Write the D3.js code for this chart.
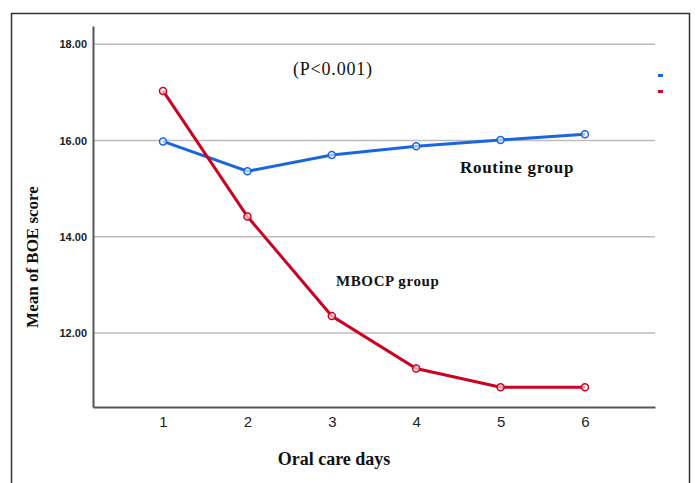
<!DOCTYPE html>
<html>
<head>
<meta charset="utf-8">
<script src="https://cdn.jsdelivr.net/npm/d3@7"></script>
<style>
  body { margin: 0; background: #fff; }
</style>
</head>
<body>
<div id="chart"></div>
<script>
const days = [1, 2, 3, 4, 5, 6];
const routine = [15.98, 15.36, 15.70, 15.88, 16.01, 16.13];
const mbocp = [17.03, 14.42, 12.35, 11.26, 10.87, 10.87];
const yTicks = [12, 14, 16, 18];

const width = 696, height = 483;
const margin = { left: 93, right: 41, top: 26, bottom: 76 };

const svg = d3.select("#chart").append("svg")
  .attr("width", width)
  .attr("height", height);

// outer frame
svg.append("rect")
  .attr("x", 11.5).attr("y", 13.5)
  .attr("width", 678).attr("height", 480)
  .attr("fill", "none").attr("stroke", "#333").attr("stroke-width", 1.5);

const x = d3.scaleLinear().domain([0.17, 6.83]).range([margin.left, width - margin.right]);
const y = d3.scaleLinear().domain([10.46, 18.38]).range([height - margin.bottom, margin.top]);

// gridlines
svg.append("g").selectAll("line")
  .data(yTicks)
  .enter().append("line")
  .attr("x1", margin.left).attr("x2", width - margin.right)
  .attr("y1", d => y(d)).attr("y2", d => y(d))
  .attr("stroke", "#bcbcbc").attr("stroke-width", 1.5);

// axes
const yAxis = svg.append("g")
  .attr("transform", `translate(${margin.left},0)`)
  .call(d3.axisLeft(y).tickValues(yTicks).tickFormat(d3.format(".2f")).tickSize(0).tickPadding(6));
yAxis.select(".domain").attr("stroke", "#555").attr("stroke-width", 2);
yAxis.selectAll("text")
  .attr("font-family", "Liberation Sans, Arial, sans-serif")
  .attr("font-size", 11).attr("font-weight", "bold").attr("fill", "#222");

const xAxis = svg.append("g")
  .attr("transform", `translate(0,${height - margin.bottom})`)
  .call(d3.axisBottom(x).tickValues(days).tickFormat(d3.format("d")).tickSize(0).tickPadding(9));
xAxis.select(".domain").attr("stroke", "#555").attr("stroke-width", 2);
xAxis.selectAll("text")
  .attr("font-family", "Liberation Sans, Arial, sans-serif")
  .attr("font-size", 15).attr("fill", "#222");

// lines
const line = d3.line().x((d, i) => x(days[i])).y(d => y(d));
const series = [
  { values: routine, color: "#1a66dd" },
  { values: mbocp, color: "#cc0020" }
];

series.forEach(s => {
  svg.append("path")
    .datum(s.values)
    .attr("d", line)
    .attr("fill", "none")
    .attr("stroke", s.color)
    .attr("stroke-width", 3);
  svg.append("g").selectAll("circle")
    .data(s.values)
    .enter().append("circle")
    .attr("cx", (d, i) => x(days[i]))
    .attr("cy", d => y(d))
    .attr("r", 3.5)
    .attr("fill", "#fff")
    .attr("fill-opacity", 0.6)
    .attr("stroke", s.color)
    .attr("stroke-width", 1.5);
});

// legend swatches (labels are blank in the original)
svg.append("g").selectAll("rect")
  .data(series)
  .enter().append("rect")
  .attr("x", 658).attr("y", (d, i) => 74 + i * 16)
  .attr("width", 5).attr("height", 3)
  .attr("fill", d => d.color);

// annotations
const serif = "Liberation Serif, Times New Roman, serif";
svg.append("text")
  .attr("x", 293).attr("y", 75)
  .attr("font-family", serif).attr("font-size", 18).attr("letter-spacing", 0.8).attr("fill", "#111")
  .text("(P<0.001)");
svg.append("text")
  .attr("x", 460).attr("y", 173)
  .attr("font-family", serif).attr("font-size", 17).attr("font-weight", "bold").attr("letter-spacing", 0.7).attr("fill", "#111")
  .text("Routine group");
svg.append("text")
  .attr("x", 336).attr("y", 286)
  .attr("font-family", serif).attr("font-size", 15).attr("font-weight", "bold").attr("letter-spacing", 0.6).attr("fill", "#111")
  .text("MBOCP group");

// axis titles
svg.append("text")
  .attr("transform", "translate(38,257) rotate(-90)")
  .attr("text-anchor", "middle")
  .attr("font-family", serif).attr("font-size", 17).attr("font-weight", "bold").attr("fill", "#111")
  .text("Mean of BOE score");
svg.append("text")
  .attr("x", 334).attr("y", 465)
  .attr("text-anchor", "middle")
  .attr("font-family", serif).attr("font-size", 18).attr("font-weight", "bold").attr("fill", "#111")
  .text("Oral care days");
</script>
</body>
</html>
